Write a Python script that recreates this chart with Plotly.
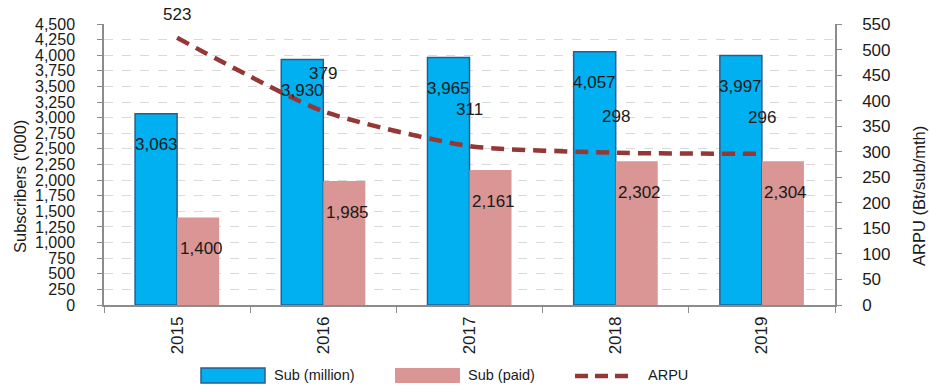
import plotly.graph_objects as go

# Data
years = ["2015", "2016", "2017", "2018", "2019"]
sub_million = [3063, 3930, 3965, 4057, 3997]
sub_paid = [1400, 1985, 2161, 2302, 2304]
arpu = [523, 379, 311, 298, 296]

BLUE = "#00B0F0"
BLUE_EDGE = "#2E5C8A"
PINK = "#D99694"
RED = "#953735"
GRID = "#D9D9D9"
AXIS = "#8C8C8C"
TEXT = "#1a1a1a"
FONT = "Liberation Sans, Arial, sans-serif"

W, H = 930, 388
ML, MR, MT, MB = 104, 95, 24, 83
PW, PH = W - ML - MR, H - MT - MB

fig = go.Figure()

fig.add_trace(go.Bar(
    x=years, y=sub_million, name="Sub (million)",
    marker=dict(color=BLUE, line=dict(color=BLUE_EDGE, width=1.5)),
    showlegend=False,
))
fig.add_trace(go.Bar(
    x=years, y=sub_paid, name="Sub (paid)",
    marker=dict(color=PINK, line=dict(width=0)),
    showlegend=False,
))
fig.add_trace(go.Scatter(
    x=years, y=arpu, name="ARPU", yaxis="y2", mode="lines",
    line=dict(color=RED, width=4.5, dash="13px,8px", shape="spline", smoothing=0.6),
    showlegend=False,
))

# Value labels for bars (placed inside, below the bar top); x uses category index
for i in range(len(years)):
    fig.add_annotation(x=i, y=sub_million[i], text=f"{sub_million[i]:,}",
                       xref="x", yref="y", showarrow=False, xshift=-21, yshift=-31,
                       font=dict(family=FONT, size=17, color=TEXT))
    fig.add_annotation(x=i, y=sub_paid[i], text=f"{sub_paid[i]:,}",
                       xref="x", yref="y", showarrow=False, xshift=24, yshift=-31,
                       font=dict(family=FONT, size=17, color=TEXT))

# ARPU labels above the line
arpu_label_shift = [23, 38, 37, 36, 36]
for i in range(len(years)):
    fig.add_annotation(x=i, y=arpu[i], text=f"{arpu[i]}",
                       xref="x", yref="y2", showarrow=False, yshift=arpu_label_shift[i],
                       font=dict(family=FONT, size=17, color=TEXT))


# Pixel positions converted to paper coords
def fx(px):
    return (px - ML) / PW


def fy(py):
    return (H - MB - py) / PH


# Axis titles
fig.add_annotation(xref="paper", yref="paper", x=fx(20), y=fy(187),
                   text="Subscribers ('000)", textangle=-90, showarrow=False,
                   xanchor="center", yanchor="middle",
                   font=dict(family=FONT, size=16.5, color=TEXT))
fig.add_annotation(xref="paper", yref="paper", x=fx(919), y=fy(196),
                   text="ARPU (Bt/sub/mth)", textangle=-90, showarrow=False,
                   xanchor="center", yanchor="middle",
                   font=dict(family=FONT, size=16.5, color=TEXT))

# Custom legend beneath the chart
fig.add_shape(type="rect", xref="paper", yref="paper",
              x0=fx(201), x1=fx(265), y0=fy(368), y1=fy(383),
              fillcolor=BLUE, line=dict(color=BLUE_EDGE, width=1.5))
fig.add_shape(type="rect", xref="paper", yref="paper",
              x0=fx(395), x1=fx(460), y0=fy(368), y1=fy(383),
              fillcolor=PINK, line=dict(width=0))
fig.add_shape(type="line", xref="paper", yref="paper",
              x0=fx(575), x1=fx(634), y0=fy(376), y1=fy(376),
              line=dict(color=RED, width=4.5, dash="13px,7px"))

for text, xp in [("Sub (million)", 272), ("Sub (paid)", 466), ("ARPU", 646)]:
    fig.add_annotation(xref="paper", yref="paper", x=fx(xp), y=fy(375),
                       text=text, showarrow=False, xanchor="left", yanchor="middle",
                       font=dict(family=FONT, size=14.5, color=TEXT))

fig.update_layout(
    width=W, height=H,
    margin=dict(l=ML, r=MR, t=MT, b=MB, pad=0),
    paper_bgcolor="white", plot_bgcolor="white",
    barmode="group", bargap=0.425, bargroupgap=0,
    font=dict(family=FONT, size=17, color=TEXT),
    xaxis=dict(
        type="category", range=[-0.5, len(years) - 0.5],
        showline=True, linecolor=AXIS, linewidth=1.5,
        ticks="outside", tickson="boundaries", ticklen=6, tickcolor=AXIS,
        tickangle=-90, tickfont=dict(size=17), showgrid=False,
        ticklabelstandoff=3,
    ),
    yaxis=dict(
        range=[0, 4500], dtick=250, tickformat=",d",
        showline=True, linecolor=AXIS, linewidth=1.5,
        ticks="outside", ticklen=5, tickcolor=AXIS,
        showgrid=True, gridcolor=GRID, griddash="dash", gridwidth=1,
        zeroline=False, tickfont=dict(size=16), ticklabelstandoff=19,
    ),
    yaxis2=dict(
        range=[0, 550], dtick=50, overlaying="y", side="right",
        showline=True, linecolor=AXIS, linewidth=1.5,
        ticks="outside", ticklen=5, tickcolor=AXIS,
        showgrid=False, zeroline=False, tickfont=dict(size=17), ticklabelstandoff=17,
    ),
)

fig.write_html("out.html")
